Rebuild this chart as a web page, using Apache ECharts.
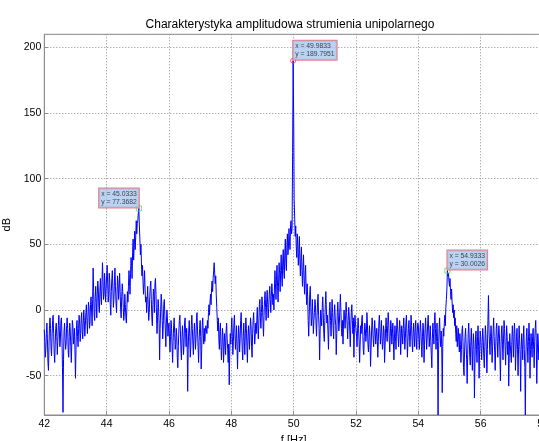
<!DOCTYPE html>
<html>
<head>
<meta charset="utf-8">
<script src="https://cdn.jsdelivr.net/npm/echarts@6/dist/echarts.min.js"></script>
<style>
  html, body { margin: 0; padding: 0; background: #fff; }
  #chart { width: 539px; height: 441px; }
</style>
</head>
<body>
<div id="chart"></div>
<script>
// Amplitude spectrum (dB) sampled every 1/60 Hz starting at 42 Hz.
const freqStart = 42;
const binsPerHz = 60;
const binCount = 961;

// Spectrum values, grouped in runs; each run starts at the given bin.
const run42_00 = [-15,-24,-36,-30,-18,-10,-22,-40,-46,-28,-12,-6,-14,-30,-35,-20,-8,-4,-18,-32,
  -40,-26,-14,-10,-20,-34,-24,-12,-4,-16,-28,-22,-8,-6,-20,-44,-78,-38,-16,-10,
  -22,-30,-26,-12,-6,-14,-32,-36,-20,-10,-16,-28,-40,-24,-8,-12,-26,-20,-14,-30];
const run43_00 = [-52,-30,-12,-8,-20,-28,-14,-4,-10,-24,-18,-6,-2,-16,-22,-10,0,-8,-20,-12,
  -2,4,-8,-18,-6,6,2,-14,-10,4,10,0,-12,8,32,14,-4,-8,10,18,
  6,-6,12,22,16,2,-2,14,24,10,4,20,36,22,8,12,28,18,6,16];
const run44_00 = [26,34,20,6,12,28,22,4,-4,14,24,30,16,2,8,22,32,18,6,-2,
  12,26,20,8,16,28,14,0,-6,10,20,14,2,-8,-2,12];
const run44_60 = [4,-6,-10,2,14,6,18,30,22,12,28,40,34,24,44,54,38,48,60,46,56,68,58,66];
const run45_00 = [68,74];
const run45_05 = [64,54,42,50,36,26,34,22,12,20,30,16,6,10,-2,8,18,4,-8,-2];
const run45_38 = [10,18,22,8,-6,-12,4,16,10,-2,20,24,12,-4,-18,-6,8,2,-10,-38,
  -14,0,12,6,-8,-22,-12,4,8,-4,-16,-28,-10,0,-6,-20,-14];
const run46_00 = [-10,-22,-32,-20,-8,-14,-28,-40,-24,-12,-6,-18,-30,-26,-14,-20,-36,-44,-28,-16,
  -8,-4,-16,-30,-38,-22,-12,-20,-34,-26,-10,-6,-18,-28,-14,-24,-62,-30,-16,-8,
  -20,-36,-28,-12,-4,-14,-26,-34,-20,-10,-18,-30,-22,-6,-2,-16,-28,-40,-24,-14,
  -8,-20,-45,-30,-12,-6,-18,-26,-14,-24,-16,-12];
const run47_20 = [-12,-18,-8,-14,-2,4,-4,6,12,4,16,22,14,24,30,36,28,20,26,12,2,-8,-16,-6];
const run47_60 = [-22,-30,-16,-10,-26,-38,-28,-14,-20,-40,-30,-18,-24,-34,-16,-10,-22,-30,-40,-26,
  -57,-32,-18,-26];
const run48_00 = [-14,-6,-20,-34,-24,-10,-4,-18,-30,-22,-12,-28,-45,-26,-12,-18,-32,-22,-8,-2,
  -16,-30,-38,-20,-10,-24,-34,-18,-6,-14,-28,-40,-22,-12,-20,-30,-16,-6,-12,-28,
  -36,-18,-8,-2,-14,-26,-20,-10];
const run48_80 = [-18,-8,2,-12,-22,-10,4,8,-6,-14,-2,10,4,-10,-20,-4,8,14,2,-8,
  6,15,4,-6,2,12,18,8,-2,10,20,14,4];
const run49_35 = [12,0,16,30,20,8,26,34,18,6,22,36,28,14,30,42,26,18,38,46,
  30,24,44,54,36,30,50,58,42,48,62,52,46,64,68,58];
const run49_95 = [62,120];
const run50_00 = [150,84];
const run50_03 = [70,56,64,48,40,58,50,34,44,56,38,26,40,48,30,18,32,42,24,12,
  26,34,16,4,20,10,-8,-20,-4,12,18,2,-12,-6,8,-4,-18,-8];
const run50_67 = [-2,8,4,-10,-20,-6,6,12,-4,-14,-38,-16,0,-6,-12,2,10,-2,-18,-24,
  -8,4,14,0,-10,-4,-16,-30,-12,2,6,-8,-20,-6,8,-2,-14,-22,-4,4,
  -6,-12,-34,-18,-2,6,-4,-16,-10,2,12,-2,-14,-20,-8,-26,-10,0,-6,-14,
  -4,6,-2,-12,-22,-8,2,-4,-16,-28,-12,-2,4,-8,-18,-6,-36,-14,-4,-10];
const run52_00 = [-10,-20,-28,-16,-6,-14,-24,-40,-26,-12,-18,-8,-4,-16,-30,-34,-20,-10,-14,-24,
  -18,-2,-10,-26,-32,-22,-12,-20,-43,-30,-16,-6,-12,-22,-28,-18,-8,-16,-26,-20,
  -14,-22,-36,-24,-10,-4,-14,-26,-18,-8,-20,-30,-24,-12,-16,-40,-28,-14,-6,-18,
  -24,-12,-2,-10,-22,-32,-20,-8,-14,-26,-18,-10,-24,-38,-22,-12,-20,-30,-16,-6,
  -12,-20,-28,-18,-8,-14,-34,-22,-12,-18,-26,-14,-6,-16,-30,-22,-10,-4,-18,-36,
  -24,-14,-8,-20,-28,-16,-4,-12,-24,-32,-18,-10,-20,-28,-14,-8,-22,-30,-16,-10];
const run54_00 = [-12,-22,-30,-18,-8,-16,-28,-36,-20,-10,-16,-40,-26,-14,-6,-18,-30,-22,-10,-4,
  -16,-28,-20,-12,-24,-34,-44,-22,-10,-18,-26,-8,-2,-14,-30,-20,-10,-24,-80,-30,
  -14,-6,-20,-28,-16,-26,-63,-28,-14,-20,-10,-4,-12,2,8,16];
const run54_95 = [26,28,22,18,24,14,8,16,6,-2,4,-6,0,-12,-6,-18,-24,-12,-28,-20,-14,-26,-32,-18];
const run55_35 = [-26,-40,-30,-16,-12,-24,-44,-50,-32,-20,-14,-26,-38,-56,-34,-18,-10,-22,-36,-42,
  -24,-14,-28,-46,-30,-18,-26,-67,-40,-22,-16,-30,-40,-20,-12,-28,-52,-30,-16];
const run56_00 = [-20,-30,-38,-24,-14,-22,-36,-44,-28,-12,-18,-32,-48,-30,-8,11,-14,-26,-34,-20,
  -12,-22,-40,-28,-16,-6,-20,-32,-46,-28,-14,-10,-24,-36,-22,-12,-18,-32,-54,-30,
  -16,-12,-26,-38,-22,-8,-14,-28,-42,-26,-12,-20,-34,-24,-58,-36,-18,-26,-34,-40,
  -24,-12,-20,-36,-22,-10,-18,-46,-32,-20,-14,-30,-50,-28,-12,-22,-34,-62,-30,-18,
  -26,-38,-22,-12,-30,-44,-80,-36,-20,-14,-28,-40,-24,-10,-20,-52,-30,-18,-28,-36,
  -20,-14,-30,-44,-24,-14,-8,-22,-56,-34,-18,-26,-38,-22,-12,-20,-30,-46,-28,-18,-24];

const runs = [
  [0, run42_00], [60, run43_00], [120, run44_00], [156, run44_60], [180, run45_00],
  [183, run45_05], [203, run45_38], [240, run46_00], [312, run47_20], [336, run47_60],
  [360, run48_00], [408, run48_80], [441, run49_35], [477, run49_95], [480, run50_00],
  [482, run50_03], [520, run50_67], [600, run52_00], [720, run54_00], [777, run54_95],
  [801, run55_35], [840, run56_00]
];

// Data tips (harmonic peaks)
const tipFreq = [45.0333, 49.9833, 54.9333];
const tipDb = [77.3682, 189.7951, 30.0026];
const tipSide = ['left', 'right', 'right'];

const xTicks = [42, 44, 46, 48, 50, 52, 54, 56, 58];

// assemble the spectrum
const spectrumDb = new Array(binCount).fill(null);
runs.forEach(([start, vals]) => {
  vals.forEach((v, k) => { if (start + k < binCount) spectrumDb[start + k] = v; });
});
tipFreq.forEach((f, k) => {
  spectrumDb[Math.round((f - freqStart) * binsPerHz)] = tipDb[k];
});
const lineData = spectrumDb.map((v, i) => [freqStart + i / binsPerHz, v]);

const FONT = 'Liberation Sans, Arial, sans-serif';
const gridColor = '#8c8c8c';

function tipLabel(side) {
  return {
    show: true,
    position: 'top',
    distance: -2,
    align: side === 'left' ? 'right' : 'left',
    verticalAlign: 'bottom',
    fontFamily: FONT,
    fontSize: 6.8,
    lineHeight: 8.5,
    color: '#1a1a1a',
    backgroundColor: '#a9c8ef',
    borderColor: '#e0606a',
    borderWidth: 1,
    padding: [1, 2, 1, 2],
    formatter: p => 'x = ' + p.value[0].toFixed(4) + '\ny = ' + p.value[1].toFixed(4)
  };
}

const tipSeries = tipFreq.map((f, k) => ({
  type: 'scatter',
  z: 5,
  silent: true,
  symbol: k === 1 ? 'circle' : 'rect',
  symbolSize: 5,
  itemStyle: {
    color: 'rgba(0,0,0,0)',
    borderColor: k === 1 ? '#e0404a' : '#5fd35f',
    borderWidth: 1
  },
  label: tipLabel(tipSide[k]),
  data: [[f, tipDb[k]]]
}));

const chart = echarts.init(document.getElementById('chart'), null, { renderer: 'canvas' });
chart.setOption({
  animation: false,
  backgroundColor: '#ffffff',
  title: {
    text: 'Charakterystyka amplitudowa strumienia unipolarnego',
    left: 285,
    textAlign: 'center',
    top: 14,
    textStyle: { fontFamily: FONT, fontSize: 12, fontWeight: 'normal', color: '#000' }
  },
  grid: {
    left: 44.3, top: 34.3, width: 498.7, height: 380.7,
    outerBoundsMode: 'none', containLabel: false,
    show: true, borderColor: gridColor, borderWidth: 1, backgroundColor: '#fff'
  },
  xAxis: {
    type: 'value',
    min: xTicks[0], max: xTicks[xTicks.length - 1], interval: 2,
    name: 'f [Hz]', nameLocation: 'middle', nameGap: 17,
    nameTextStyle: { fontFamily: FONT, fontSize: 11, color: '#000' },
    axisLine: { show: true, onZero: false, lineStyle: { color: gridColor, width: 1 } },
    axisTick: { show: true, inside: true, length: 4, lineStyle: { color: gridColor } },
    axisLabel: { fontFamily: FONT, fontSize: 10.5, color: '#000', margin: 4 },
    splitLine: { show: true, lineStyle: { color: gridColor, type: [1, 2], width: 1 } }
  },
  yAxis: {
    type: 'value',
    min: -80, max: 210,
    name: 'dB', nameLocation: 'middle', nameGap: 25,
    nameTextStyle: { fontFamily: FONT, fontSize: 11, color: '#000' },
    axisLine: { show: true, onZero: false, lineStyle: { color: gridColor, width: 1 } },
    axisTick: { show: true, inside: true, length: 4, lineStyle: { color: gridColor } },
    axisLabel: { fontFamily: FONT, fontSize: 10.5, color: '#000', margin: 3,
      showMinLabel: false, showMaxLabel: false },
    splitLine: { show: true, lineStyle: { color: gridColor, type: [1, 2], width: 1 } }
  },
  series: [{
    type: 'line',
    data: lineData,
    showSymbol: false,
    connectNulls: true,
    silent: true,
    lineStyle: { color: '#0000ff', width: 1 },
    z: 3
  }].concat(tipSeries)
});
</script>
</body>
</html>
